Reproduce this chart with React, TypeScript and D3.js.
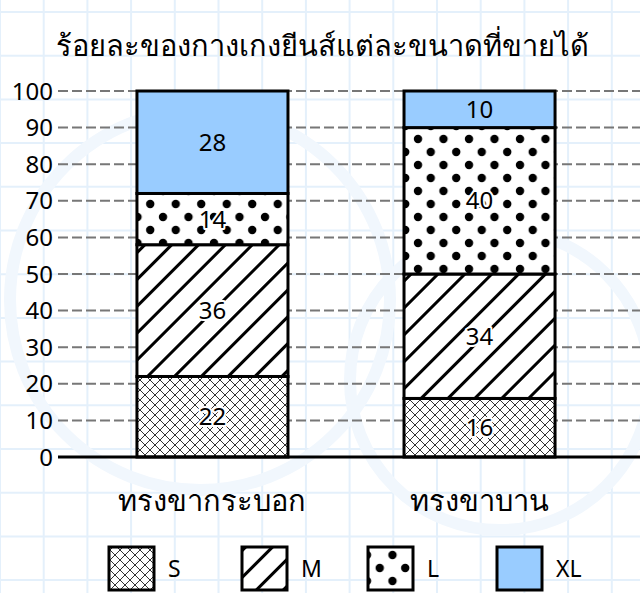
import React from "react";
import * as d3 from "d3";

const title = "ร้อยละของกางเกงยีนส์แต่ละขนาดที่ขายได้";
const categories = ["ทรงขากระบอก", "ทรงขาบาน"];
const sizes = ["S", "M", "L", "XL"];
const valuesS = [22, 16];
const valuesM = [36, 34];
const valuesL = [14, 40];
const valuesXL = [28, 10];
const yTicks = [0, 10, 20, 30, 40, 50, 60, 70, 80, 90, 100];

const W = 640;
const H = 593;
const FONT = "'Noto Sans', 'Open Sans', sans-serif";

export default function App() {
  const rows = categories.map((c, i) => ({
    cat: c,
    S: valuesS[i],
    M: valuesM[i],
    L: valuesL[i],
    XL: valuesXL[i],
  }));
  const series = d3.stack<any>().keys(sizes)(rows);
  const x = d3
    .scaleBand<string>()
    .domain(categories)
    .range([79, 613])
    .paddingInner(0.4345)
    .paddingOuter(0.217);
  const y = d3.scaleLinear().domain([0, 100]).range([457, 91]);
  const fills: Record<string, string> = {
    S: "url(#pS)",
    M: "url(#pM)",
    L: "url(#pL)",
    XL: "#99ccff",
  };
  const legendX = [109, 242, 368, 497];

  const bgLinesX = d3.range(0, W + 44, 43.7);
  const bgLinesY = d3.range(12, H + 44, 43.7);

  return (
    <svg
      width={W}
      height={H}
      style={{ position: "absolute", left: 0, top: 0, display: "block" }}
      fontFamily={FONT}
    >
      <defs>
        <pattern id="pS" patternUnits="userSpaceOnUse" width={10} height={10}>
          <rect width={10} height={10} fill="white" />
          <path d="M0,0L10,10M10,0L0,10M-1,9L1,11M9,-1L11,1" stroke="#333" strokeWidth={1} />
        </pattern>
        <pattern
          id="pM"
          patternUnits="userSpaceOnUse"
          width={19}
          height={19}
          patternTransform="rotate(45)"
        >
          <rect width={19} height={19} fill="white" />
          <line x1={9.5} y1={-1} x2={9.5} y2={20} stroke="black" strokeWidth={3} />
        </pattern>
        <pattern id="pL" patternUnits="userSpaceOnUse" width={25.5} height={26} x={4} y={3}>
          <rect width={25.5} height={26} fill="white" />
          <circle cx={6} cy={6} r={4.2} fill="black" />
          <circle cx={18.75} cy={19} r={4.2} fill="black" />
        </pattern>
      </defs>

      <rect width={W} height={H} fill="white" />
      <g stroke="#e4f0fb" strokeWidth={2}>
        {bgLinesX.map((v, i) => (
          <line key={"bx" + i} x1={v} x2={v} y1={0} y2={H} />
        ))}
        {bgLinesY.map((v, i) => (
          <line key={"by" + i} x1={0} x2={W} y1={v} y2={v} />
        ))}
      </g>
      <g fill="none" stroke="#f1f7fd" strokeWidth={12}>
        <circle cx={200} cy={300} r={190} />
        <circle cx={500} cy={380} r={150} />
      </g>

      <text
        x={322}
        y={56}
        textAnchor="middle"
        fontSize={29}
        fill="black"
      >
        {title}
      </text>

      {/* grid lines */}
      <g>
        {yTicks.map((t) => (
          <g key={t}>
            {t > 0 && (
              <line
                x1={58}
                x2={W}
                y1={y(t)}
                y2={y(t)}
                stroke="#777"
                strokeWidth={2}
                strokeDasharray="10,4"
              />
            )}
            <text
              x={53}
              y={y(t)}
              dy="0.36em"
              textAnchor="end"
              fontSize={24}
              fill="black"
            >
              {t}
            </text>
          </g>
        ))}
      </g>

      {/* bars */}
      {series.map((s) => (
        <g key={s.key}>
          {s.map((d: any, i: number) => (
            <rect
              key={i}
              x={x(d.data.cat)!}
              y={y(d[1])}
              width={x.bandwidth()}
              height={y(d[0]) - y(d[1])}
              fill={fills[s.key]}
              stroke="black"
              strokeWidth={3}
            />
          ))}
        </g>
      ))}
      {series.map((s) => (
        <g key={"l" + s.key}>
          {s.map((d: any, i: number) => (
            <text
              key={i}
              x={x(d.data.cat)! + x.bandwidth() / 2}
              y={(y(d[0]) + y(d[1])) / 2}
              dy="0.36em"
              textAnchor="middle"
              fontSize={24}
              fill="black"
              stroke={s.key === "XL" ? "none" : "white"}
              strokeWidth={4}
              paintOrder="stroke"
              strokeLinejoin="round"
            >
              {d[1] - d[0]}
            </text>
          ))}
        </g>
      ))}

      <line x1={58} x2={W} y1={y(0)} y2={y(0)} stroke="black" strokeWidth={3} />

      {categories.map((c) => (
        <text
          key={c}
          x={x(c)! + x.bandwidth() / 2}
          y={511}
          textAnchor="middle"
          fontSize={29}
          fill="black"
        >
          {c}
        </text>
      ))}

      {sizes.map((s, i) => (
        <g key={"lg" + s}>
          <rect
            x={legendX[i]}
            y={547}
            width={45}
            height={43}
            fill={fills[s]}
            stroke="black"
            strokeWidth={3}
          />
          <text
            x={legendX[i] + 59}
            y={569}
            dy="0.36em"
            fontSize={23}
            fill="black"
          >
            {s}
          </text>
        </g>
      ))}
    </svg>
  );
}
